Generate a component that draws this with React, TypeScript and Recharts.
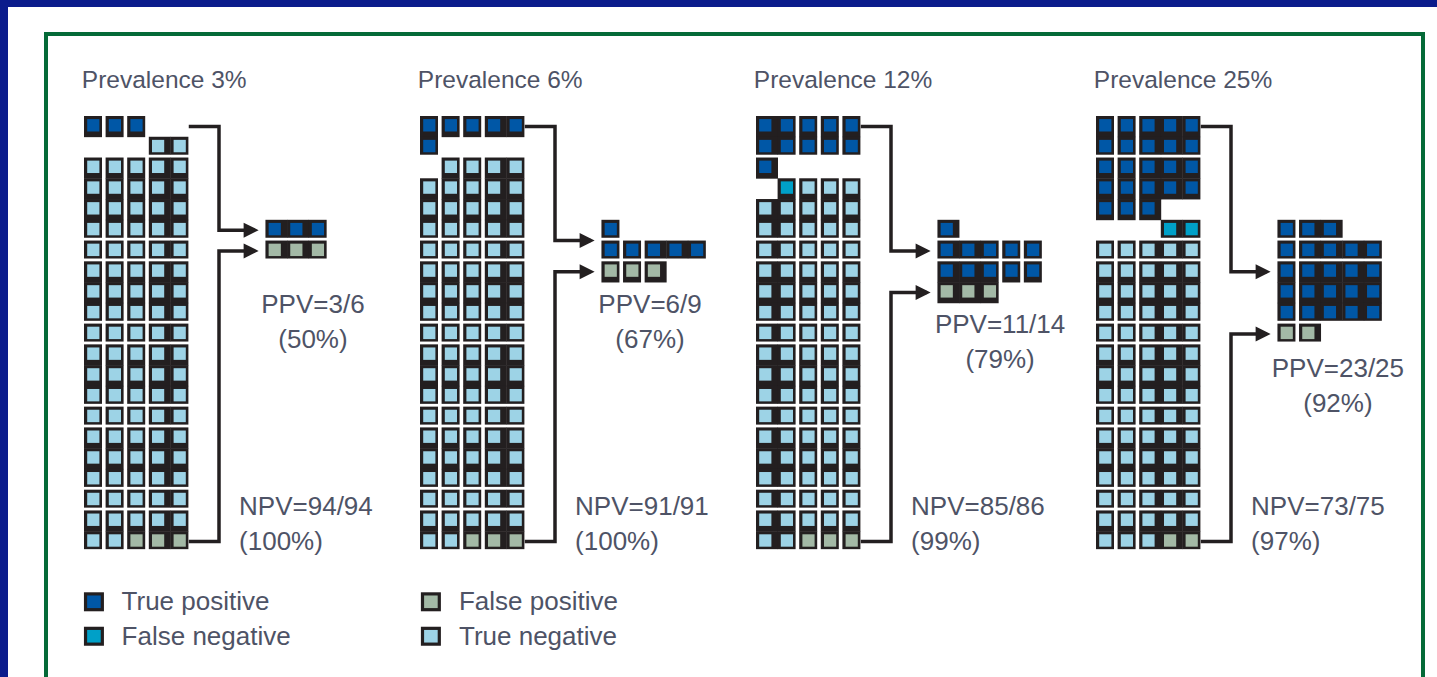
import { Scatter, ScatterChart, XAxis, YAxis } from "recharts"

const W = 1437
const H = 677

// cell codes: P true positive, M false negative, F false positive, N true negative, . empty
const PREVALENCE = [3, 6, 12, 25]

const GRID_3 = [
  "PPP..", "...NN", "NNNNN", "NNNNN", "NNNNN", "NNNNN", "NNNNN",
  "NNNNN", "NNNNN", "NNNNN", "NNNNN", "NNNNN", "NNNNN", "NNNNN",
  "NNNNN", "NNNNN", "NNNNN", "NNNNN", "NNNNN", "NNNNN", "NNFFF",
]
const GRID_6 = [
  "PPPPP", "P....", ".NNNN", "NNNNN", "NNNNN", "NNNNN", "NNNNN",
  "NNNNN", "NNNNN", "NNNNN", "NNNNN", "NNNNN", "NNNNN", "NNNNN",
  "NNNNN", "NNNNN", "NNNNN", "NNNNN", "NNNNN", "NNNNN", "NNFFF",
]
const GRID_12 = [
  "PPPPP", "PPPPP", "P....", ".MNNN", "NNNNN", "NNNNN", "NNNNN",
  "NNNNN", "NNNNN", "NNNNN", "NNNNN", "NNNNN", "NNNNN", "NNNNN",
  "NNNNN", "NNNNN", "NNNNN", "NNNNN", "NNNNN", "NNNNN", "NNFFF",
]
const GRID_25 = [
  "PPPPP", "PPPPP", "PPPPP", "PPPPP", "PPP..", "...MM", "NNNNN",
  "NNNNN", "NNNNN", "NNNNN", "NNNNN", "NNNNN", "NNNNN", "NNNNN",
  "NNNNN", "NNNNN", "NNNNN", "NNNNN", "NNNNN", "NNNNN", "NNNFF",
]
const GRIDS = [GRID_3, GRID_6, GRID_12, GRID_25]

const LEGEND_CODES = ["P", "M", "F", "N"]
const LEGEND_LABELS = ["True positive", "False negative", "False positive", "True negative"]

// styles and layout
const COLORS: Record<string, string> = { P: "#0057a6", M: "#00a0c8", F: "#a3b9a6", N: "#9dd3e6" }
const DARK = "#231f20"
const TEXT = "#4e5366"
const FONT = "'Liberation Sans', Arial, sans-serif"
const PX = 21.6
const PY = 20.76
const Y0 = 116
const PANEL_LEFT = [84, 420, 756, 1096]
const ROW_GAPS = [1, 5, 6, 9, 10, 13, 14, 17, 18, 20]
const GRID_COL_GAPS = [[0, 1, 2], [0, 1, 2], [1, 2, 3], [0, 1]]
const OUT_COL_GAPS = [[2], [0, 1], [2, 3], [0]]
const OUT_COL = 8.4
const OUT_ROW = 5
const PPV_CENTER = [10.6, 10.65, 11.3, 11.2]
const PPV_ROW = [9.49, 9.49, 10.45, 12.57]

const count = (grid: string[], code: string) => grid.join("").split(code).length - 1
const pct = (a: number, b: number) => `(${Math.round((a / b) * 100)}%)`

function gridCells(grid: string[]) {
  const cells: any[] = []
  grid.forEach((line, row) =>
    line.split("").forEach((code, col) => {
      if (code !== ".") cells.push({ x: col + 0.5, y: row + 0.5, col, row, code })
    })
  )
  return cells
}

function outputRows(tp: number) {
  const rows: number[] = []
  if (tp % 5) rows.push(tp % 5)
  for (let i = 0; i < Math.floor(tp / 5); i++) rows.push(5)
  return rows
}

function outputCells(tp: number, fp: number) {
  const cells: any[] = []
  const rows = outputRows(tp)
  rows.forEach((n, r) => {
    for (let c = 0; c < n; c++)
      cells.push({ x: OUT_COL + c + 0.5, y: OUT_ROW + r + 0.5, col: c, row: OUT_ROW + r, code: "P" })
  })
  for (let c = 0; c < fp; c++)
    cells.push({ x: OUT_COL + c + 0.5, y: OUT_ROW + rows.length + 0.5, col: c, row: OUT_ROW + rows.length, code: "F" })
  return cells
}

const cellShape = (colGaps: number[]) => (props: any) => {
  const { cx, cy, payload } = props
  if (cx == null || cy == null) return <g />
  const left = cx - PX / 2
  const top = cy - PY / 2
  const joinR = payload.col < 4 && !colGaps.includes(payload.col)
  const joinD = !ROW_GAPS.includes(payload.row)
  return (
    <g>
      <rect x={left} y={top} width={joinR ? PX + 0.4 : PX - 3.6} height={joinD ? PY + 0.4 : PY - 2.8} fill={DARK} />
      <rect x={left + 3.2} y={top + 3.1} width={12.2} height={12.4} fill={COLORS[payload.code]} />
    </g>
  )
}

const textShape = (props: any) => {
  const { cx, cy, payload } = props
  if (cx == null || cy == null) return <g />
  return (
    <text x={cx} y={cy} textAnchor={payload.anchor} fontSize={payload.size} fill={TEXT} fontFamily={FONT}>
      {payload.text}
    </text>
  )
}

const arrowShape = (props: any) => {
  const { cx, cy, payload } = props
  if (!payload.head || cx == null) return <g />
  return <polygon points={`${cx + 4},${cy} ${cx - 11},${cy - 7.5} ${cx - 11},${cy + 7.5}`} fill={DARK} />
}

const legendShape = (props: any) => {
  const { cx, cy, payload } = props
  if (cx == null || cy == null) return <g />
  return (
    <g>
      <rect x={cx - 10} y={cy - 9.5} width={20} height={19} fill={DARK} />
      <rect x={cx - 6.8} y={cy - 6.3} width={13.6} height={12.6} fill={COLORS[payload.code]} />
    </g>
  )
}

const legendSquares = LEGEND_CODES.map((code, i) => ({
  x: i < 2 ? 0.46 : 16.06,
  y: i % 2 === 0 ? 23.4 : 25.06,
  code,
}))
const legendTexts = LEGEND_LABELS.map((text, i) => ({
  x: i < 2 ? 1.74 : 17.36,
  y: i % 2 === 0 ? 23.8 : 25.48,
  text,
  anchor: "start",
  size: 26,
}))

export default function App() {
  return (
    <div style={{ position: "absolute", left: 0, top: 0, width: W, height: H, background: "#fff", overflow: "hidden" }}>
      <style>{"body{margin:0}"}</style>
      <div style={{ position: "absolute", left: 0, top: 0, width: W, height: 7, background: "#0b1c8c" }} />
      <div style={{ position: "absolute", left: 0, top: 0, width: 7.5, height: H, background: "#0b1c8c" }} />
      <div
        style={{
          position: "absolute",
          left: 44,
          top: 32,
          width: 1381,
          height: 720,
          border: "4px solid #056a38",
          boxSizing: "border-box",
        }}
      />
      <div style={{ position: "absolute", left: 0, top: 0 }}>
        <ScatterChart width={W} height={H} margin={{ top: 0, right: 0, bottom: 0, left: 0 }}>
          {PANEL_LEFT.map((L, i) => (
            <XAxis
              key={`x${i}`}
              xAxisId={i}
              type="number"
              dataKey="x"
              domain={[-L / PX, (W - L) / PX]}
              allowDataOverflow
              hide
            />
          ))}
          <YAxis type="number" dataKey="y" domain={[-Y0 / PY, (H - Y0) / PY]} reversed allowDataOverflow hide />
          {GRIDS.map((grid, i) => {
            const tp = count(grid, "P")
            const fn = count(grid, "M")
            const fp = count(grid, "F")
            const tn = count(grid, "N")
            const nRows = outputRows(tp).length
            const tpMid = OUT_ROW + nRows / 2
            const fpMid = OUT_ROW + nRows + 0.5
            const texts = [
              { x: -0.1, y: -1.35, text: `Prevalence ${PREVALENCE[i]}%`, anchor: "start", size: 24.5 },
              { x: PPV_CENTER[i], y: PPV_ROW[i], text: `PPV=${tp}/${tp + fp}`, anchor: "middle", size: 26 },
              { x: PPV_CENTER[i], y: PPV_ROW[i] + 1.69, text: pct(tp, tp + fp), anchor: "middle", size: 26 },
              { x: 7.18, y: 19.22, text: `NPV=${tn}/${tn + fn}`, anchor: "start", size: 26 },
              { x: 7.18, y: 20.9, text: pct(tn, tn + fn), anchor: "start", size: 26 },
            ]
            const topLink = [
              { x: 4.85, y: 0.5 },
              { x: 6.25, y: 0.5 },
              { x: 6.25, y: tpMid },
              { x: 7.9, y: tpMid, head: true },
            ]
            const bottomLink = [
              { x: 4.85, y: 20.5 },
              { x: 6.25, y: 20.5 },
              { x: 6.25, y: fpMid },
              { x: 7.9, y: fpMid, head: true },
            ]
            return [
              <Scatter
                key={`g${i}`}
                xAxisId={i}
                data={gridCells(grid)}
                shape={cellShape(GRID_COL_GAPS[i])}
                isAnimationActive={false}
              />,
              <Scatter
                key={`o${i}`}
                xAxisId={i}
                data={outputCells(tp, fp)}
                shape={cellShape(OUT_COL_GAPS[i])}
                isAnimationActive={false}
              />,
              <Scatter
                key={`lt${i}`}
                xAxisId={i}
                data={topLink}
                fill={DARK}
                line={{ stroke: DARK, strokeWidth: 3.5 }}
                lineType="joint"
                shape={arrowShape}
                isAnimationActive={false}
              />,
              <Scatter
                key={`lb${i}`}
                xAxisId={i}
                data={bottomLink}
                fill={DARK}
                line={{ stroke: DARK, strokeWidth: 3.5 }}
                lineType="joint"
                shape={arrowShape}
                isAnimationActive={false}
              />,
              <Scatter key={`t${i}`} xAxisId={i} data={texts} shape={textShape} isAnimationActive={false} />,
            ]
          })}
          <Scatter xAxisId={0} data={legendSquares} shape={legendShape} isAnimationActive={false} />
          <Scatter xAxisId={0} data={legendTexts} shape={textShape} isAnimationActive={false} />
        </ScatterChart>
      </div>
    </div>
  )
}
